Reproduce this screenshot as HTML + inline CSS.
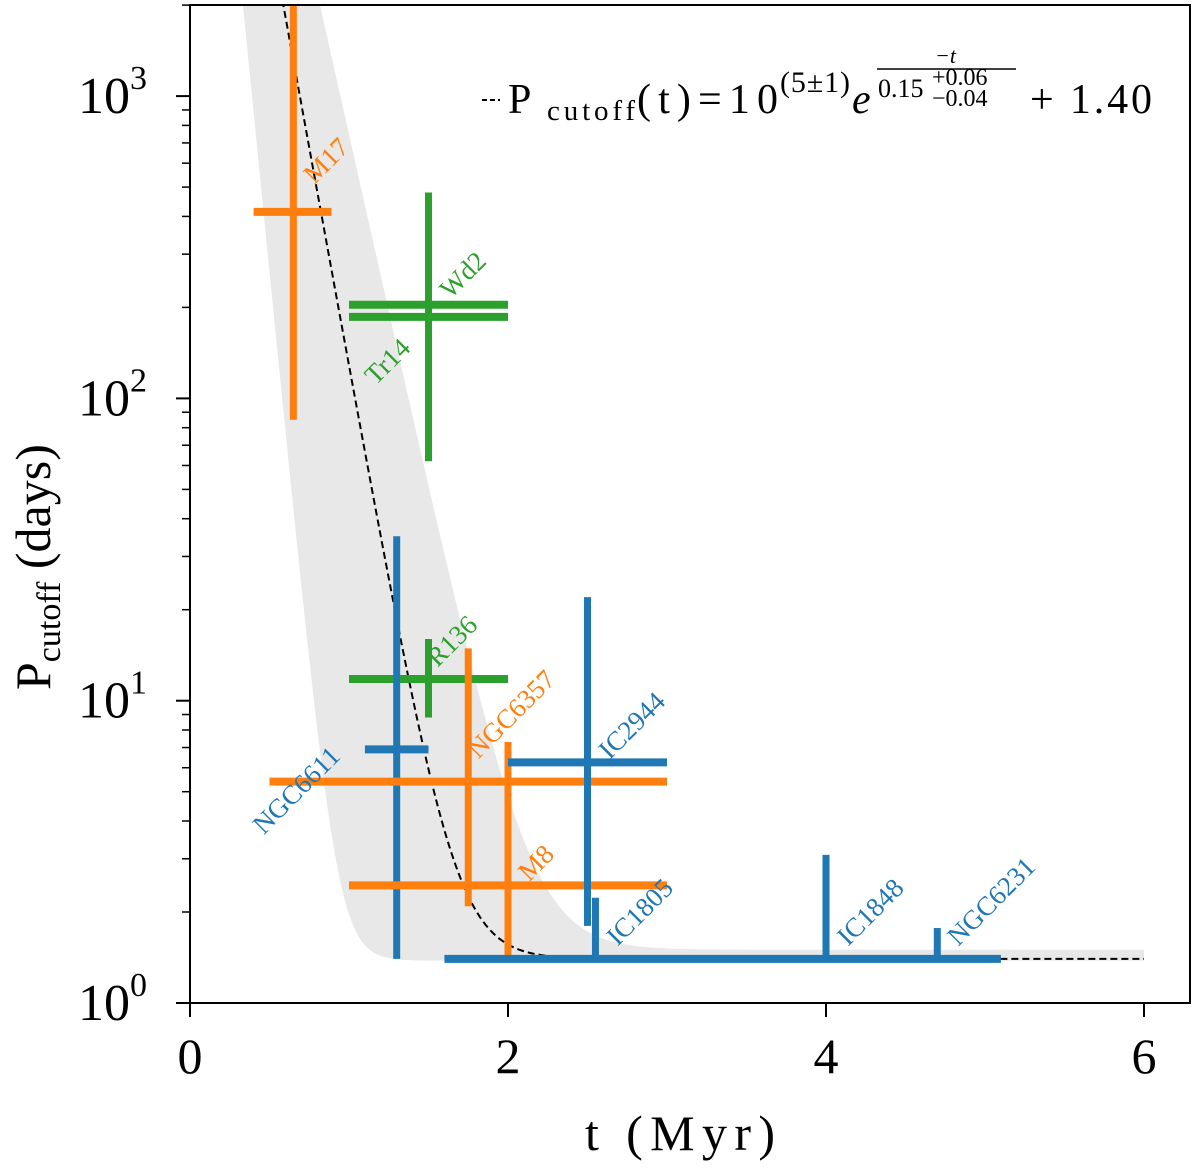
<!DOCTYPE html>
<html><head><meta charset="utf-8"><style>
body{margin:0;background:#fff}
svg text{font-family:"Liberation Serif",serif}
</style></head><body>
<svg id="chart" width="1200" height="1165" viewBox="0 0 1200 1165" xmlns="http://www.w3.org/2000/svg">
<defs><clipPath id="clip"><rect x="190" y="5" width="1000" height="998"/></clipPath></defs>
<g id="band" clip-path="url(#clip)"></g>
<g id="fit" clip-path="url(#clip)"></g>
<g id="marks" clip-path="url(#clip)"></g>
<g id="labels"></g>
<rect x="190" y="5" width="1000" height="998" fill="none" stroke="#000" stroke-width="2"/>
<g id="axes"></g>
<g>
<line x1="482" y1="100" x2="500" y2="100" stroke="#000" stroke-width="2" stroke-dasharray="5,3"/>
<text x="508" y="113" font-size="42">P</text>
<text x="547" y="120" font-size="29" textLength="88" lengthAdjust="spacing">cutoff</text>
<text x="637" y="113" font-size="42" textLength="141" lengthAdjust="spacing">(t)=10</text>
<text x="780" y="92" font-size="30" textLength="70" lengthAdjust="spacing">(5±1)</text>
<text x="852" y="113" font-size="42" font-style="italic">e</text>
<text x="935" y="63" font-size="22" font-style="italic">−t</text>
<line x1="877" y1="69" x2="1016" y2="69" stroke="#000" stroke-width="1.5"/>
<text x="878" y="97" font-size="26">0.15</text>
<text x="932" y="85" font-size="24">+0.06</text>
<text x="932" y="106" font-size="24">−0.04</text>
<text x="1030" y="113" font-size="42" textLength="122" lengthAdjust="spacing">+ 1.40</text>
</g>
<text x="585" y="1150" font-size="50" textLength="190" lengthAdjust="spacing">t (Myr)</text>
<text transform="translate(50,690) rotate(-90)" font-size="50">P<tspan font-size="34" dy="10">cutoff</tspan><tspan dy="-10"> (days)</tspan></text>
</svg>
<script>
const names=["M17","Wd2","Tr14","R136","NGC6611","NGC6357","M8","IC2944","IC1805","IC1848","NGC6231"];
const colors=["#ff7f0e","#2ca02c","#2ca02c","#2ca02c","#1f77b4","#ff7f0e","#ff7f0e","#1f77b4","#1f77b4","#1f77b4","#1f77b4"];
const tVals=[0.65,1.5,1.5,1.5,1.3,1.75,2.0,2.5,2.55,4.0,4.7];
const tLo=[0.40,1.0,1.0,1.0,1.1,0.5,1.0,2.0,1.6,4.0,4.7];
const tHi=[0.89,2.0,2.0,2.0,1.5,3.0,3.0,3.0,5.1,4.0,4.7];
const pVals=[414,204,186,11.8,6.9,5.4,2.45,6.25,1.4,1.4,1.4];
const pLo=[85,62,62,8.8,1.4,2.09,1.4,1.8,1.4,1.4,1.4];
const pHi=[5000,480,480,16,35,14.9,7.3,22,2.23,3.09,1.77];
const labelDx=[21,22,-53,9,-133,10,21,22,22,22,21];
const labelDy=[-27,-5,69,-11,86,-22,-3,-2,-12,-12,-12];
const fitA=[1e5],fitB=[0.15],fitC=[1.40];
const bandLo=[116000,0.082,1.38];
const bandHi=[166000,0.185,1.5];
const xTicks=[0,2,4,6];
const yTicks=[0,1,2,3];

const NS="http://www.w3.org/2000/svg";
const X=t=>190+159*t;
const Y=p=>1003-302.3*Math.log10(p);
function mk(tag,attrs,parent){const e=document.createElementNS(NS,tag);for(const k in attrs)e.setAttribute(k,attrs[k]);parent.appendChild(e);return e;}
const f=(m,t)=>m[0]*Math.exp(-t/m[1])+m[2];
let up=[],lo=[];
for(let t=0;t<=6.001;t+=0.01){up.push(X(t)+","+Y(f(bandHi,t)));lo.push(X(t)+","+Y(f(bandLo,t)));}
const bp=mk("polygon",{points:up.concat(lo.reverse()).join(" "),fill:"#e8e8e8"},document.getElementById("band"));


let fp=[];for(let t=0;t<=6.001;t+=0.01)fp.push(X(t)+","+Y(f([fitA[0],fitB[0],fitC[0]],t)));
const fl=mk("polyline",{points:fp.join(" "),fill:"none",stroke:"#000","stroke-width":2,"stroke-dasharray":"7,4"},document.getElementById("fit"));


const mg=document.getElementById("marks"),lg=document.getElementById("labels");
for(let i=0;i<names.length;i++){
 const g=mk("g",{},mg);
 
 
 if(tHi[i]>tLo[i])mk("line",{x1:X(tLo[i]),x2:X(tHi[i]),y1:Y(pVals[i]),y2:Y(pVals[i]),stroke:colors[i],"stroke-width":8},g);
 mk("line",{x1:X(tVals[i]),x2:X(tVals[i]),y1:Y(pLo[i]),y2:Y(pHi[i]),stroke:colors[i],"stroke-width":7},g);
 const tx=mk("text",{transform:`translate(${X(tVals[i])+labelDx[i]},${Y(pVals[i])+labelDy[i]}) rotate(-45)`,fill:colors[i],"font-size":27},lg);
 tx.textContent=names[i];
 
 
}
const ax=document.getElementById("axes");
xTicks.forEach(v=>{
 mk("line",{x1:X(v),x2:X(v),y1:1003,y2:1017,stroke:"#000","stroke-width":2},ax);
 const t=mk("text",{x:X(v),y:1073,"text-anchor":"middle","font-size":50},ax);t.textContent=v;
 
 
});
yTicks.forEach(v=>{
 const y=Y(Math.pow(10,v));
 mk("line",{x1:176,x2:190,y1:y,y2:y,stroke:"#000","stroke-width":2},ax);
 const t=mk("text",{x:78,y:y+17,"font-size":52},ax);t.innerHTML='10<tspan font-size="34" dy="-24">'+v+'</tspan>';
 
 
 for(let k=2;k<10;k++){const yy=Y(k*Math.pow(10,v));if(yy<5)break;mk("line",{x1:182,x2:190,y1:yy,y2:yy,stroke:"#000","stroke-width":1.5},ax);}
});
</script>
</body></html>
